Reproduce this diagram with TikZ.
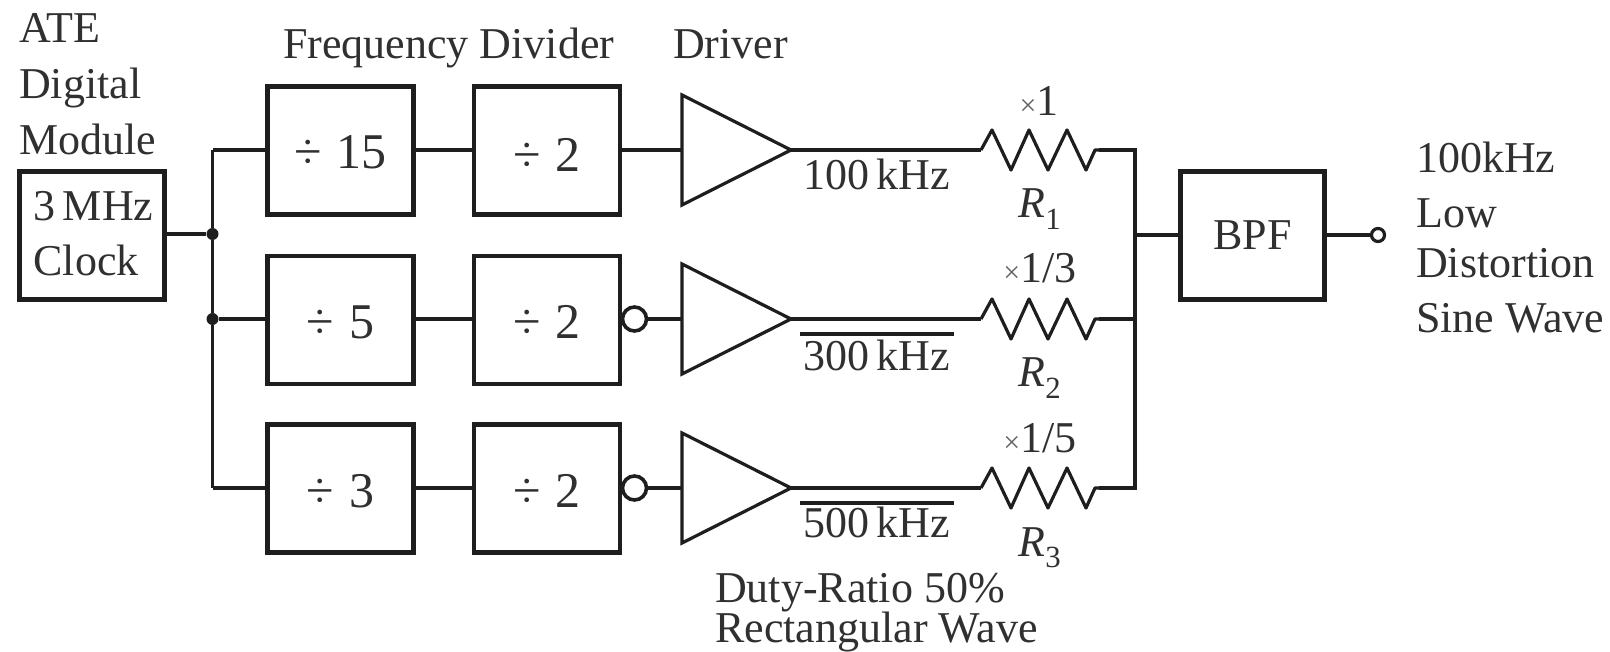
\documentclass[tikz,border=0pt]{standalone}
\usepackage{fontspec}
\setmainfont{Liberation Serif}
\definecolor{ink}{HTML}{1E1E1E}
\definecolor{txt}{HTML}{303030}
\tikzset{
  x=1pt,y=-1pt,
  wire/.style={draw=ink,line width=3.8pt,line join=miter},
  thin wire/.style={draw=ink,line width=3.2pt,line join=round},
  blockbox/.style={draw=ink,line width=4.4pt,minimum width=146pt,minimum height=128pt,inner sep=0pt,font=\fontsize{44}{44}\selectfont,text=txt},
  lab/.style={inner sep=0pt,anchor=base west,text=txt,font=\fontsize{44}{44}\selectfont},
  labc/.style={inner sep=0pt,anchor=base,text=txt,font=\fontsize{44}{44}\selectfont},
  junction/.style={circle,fill=ink,inner sep=0pt,minimum size=12pt},
  bubble/.style={circle,draw=ink,line width=3.6pt,fill=white,inner sep=0pt,minimum size=24pt},
  port/.style={circle,draw=ink,line width=3.2pt,fill=white,inner sep=0pt,minimum size=13pt},
  bar/.style={draw=ink,line width=4.8pt},
}
\newcommand{\zigzag}[2]{% start coordinate name, end coordinate name
  \draw[thin wire] (#1) -- ++(11,-20) -- ++(19,40) -- ++(18,-40) -- ++(19,40) -- ++(19,-40) -- ++(19,40) -- ++(9,-20) -- (#2);}
\newcommand{\divlab}[1]{\fontsize{50}{50}\selectfont ÷\hspace{0.3em}#1}
\newcommand{\gainx}{{\fontsize{30}{30}\selectfont\color{txt!75}×}}
\begin{document}
\begin{tikzpicture}
\useasboundingbox (0,0) rectangle (1610,652);
\fill[white] (0,0) rectangle (1610,652);
% blocks
\node[blockbox,minimum width=145pt] (clk) at (92,235.5) {};
\node[blockbox] (a1) at (340.5,150.5) {};
\node[blockbox] (a2) at (340.5,320) {};
\node[blockbox] (a3) at (340.5,488.5) {};
\node[blockbox] (b1) at (547,150.5) {};
\node[blockbox] (b2) at (547,320) {};
\node[blockbox] (b3) at (547,488.5) {};
\node[blockbox,minimum width=144pt] (bpf) at (1252.5,235.5) {BPF};
% divider texts
\node[labc] (ta1) at (340.5,169) {\divlab{15}};
\node[labc] (ta2) at (340.5,339) {\divlab{5}};
\node[labc] (ta3) at (340.5,507) {\divlab{3}};
\node[labc] (tb1) at (547,172) {\divlab{2}};
\node[labc] (tb2) at (547,339) {\divlab{2}};
\node[labc] (tb3) at (547,507) {\divlab{2}};
% junctions and corners
\coordinate (busT) at (212.5,150);
\coordinate (busB) at (212.5,488);
\node[junction] (j1) at (212.5,234) {};
\node[junction] (j2) at (212.5,319) {};
\coordinate (outT) at (1135,150);
\coordinate (outM) at (1135,235);
\coordinate (outU) at (1135,319);
\coordinate (outB) at (1135,488);
% bubbles and port
\node[bubble] (n2) at (634.5,319) {};
\node[bubble] (n3) at (634.5,488) {};
\node[port] (out) at (1378,235) {};
% drivers
\foreach \n/\y in {1/150,2/319,3/488}{
  \coordinate (d\n) at (682,\y);
  \coordinate (t\n) at (791,\y);
  \coordinate (ra\n) at (981,\y);
  \coordinate (rb\n) at (1099,\y);
  \draw[thin wire,line join=miter] (682,\y-55) -- (t\n) -- (682,\y+55) -- cycle;
  \zigzag{ra\n}{rb\n}
}
% wires
\draw[wire] (clk.east |- j1) -- (j1);
\draw[wire] (busT) -- (j1) -- (j2) -- (busB);
\draw[wire] (a1.west |- busT) -- (busT);
\draw[wire] (j2) -- (a2.west |- j2);
\draw[wire] (busB) -- (a3.west |- busB);
\draw[wire] (a1.east |- busT) -- (b1.west |- busT);
\draw[wire] (a2.east |- j2) -- (b2.west |- j2);
\draw[wire] (a3.east |- busB) -- (b3.west |- busB);
\draw[wire] (b1.east |- d1) -- (d1);
\draw[wire] (n2) -- (d2);
\draw[wire] (n3) -- (d3);
\draw[wire] (t1) -- (ra1);
\draw[wire] (t2) -- (ra2);
\draw[wire] (t3) -- (ra3);
\draw[wire] (rb1) -- (outT) -- (outM) -- (outU) -- (outB) -- (rb3);
\draw[wire] (rb2) -- (outU);
\draw[wire] (outM) -- (bpf.west |- outM);
\draw[wire] (bpf.east |- out) -- (out);
% overbars
\draw[bar] (800,334) -- (954,334);
\draw[bar] (800,503) -- (954,503);
% labels
\node[lab] (l1) at (19,43) {ATE};
\node[lab] (l2) at (19,99) {Digital};
\node[lab] (l3) at (19,155) {Module};
\node[labc] (c1) at (93.5,221) {3\,MHz};
\node[labc] (c2) at (86,276) {Clock};
\node[lab] (fd) at (283,59) {Frequency Divider};
\node[lab] (dr) at (673,59) {Driver};
\node[labc] (f1) at (877,190) {100\,kHz};
\node[labc] (f2) at (877,371) {300\,kHz};
\node[labc] (f3) at (877,537) {500\,kHz};
\node[labc] (g1) at (1039,116) {\gainx 1};
\node[labc] (g2) at (1040,283) {\gainx 1/3};
\node[labc] (g3) at (1040,452) {\gainx 1/5};
\node[labc] (r1) at (1040,218) {\textit{R}\textsubscript{1}};
\node[labc] (r2) at (1040,387) {\textit{R}\textsubscript{2}};
\node[labc] (r3) at (1040,556) {\textit{R}\textsubscript{3}};
\node[lab] (s1) at (1416,173) {100kHz};
\node[lab] (s2) at (1416,228) {Low};
\node[lab] (s3) at (1416,278) {Distortion};
\node[lab] (s4) at (1416,333) {Sine Wave};
\node[lab] (w1) at (715,602) {Duty-Ratio 50\%};
\node[lab] (w2) at (715,642.5) {Rectangular Wave};
\end{tikzpicture}
\end{document}
